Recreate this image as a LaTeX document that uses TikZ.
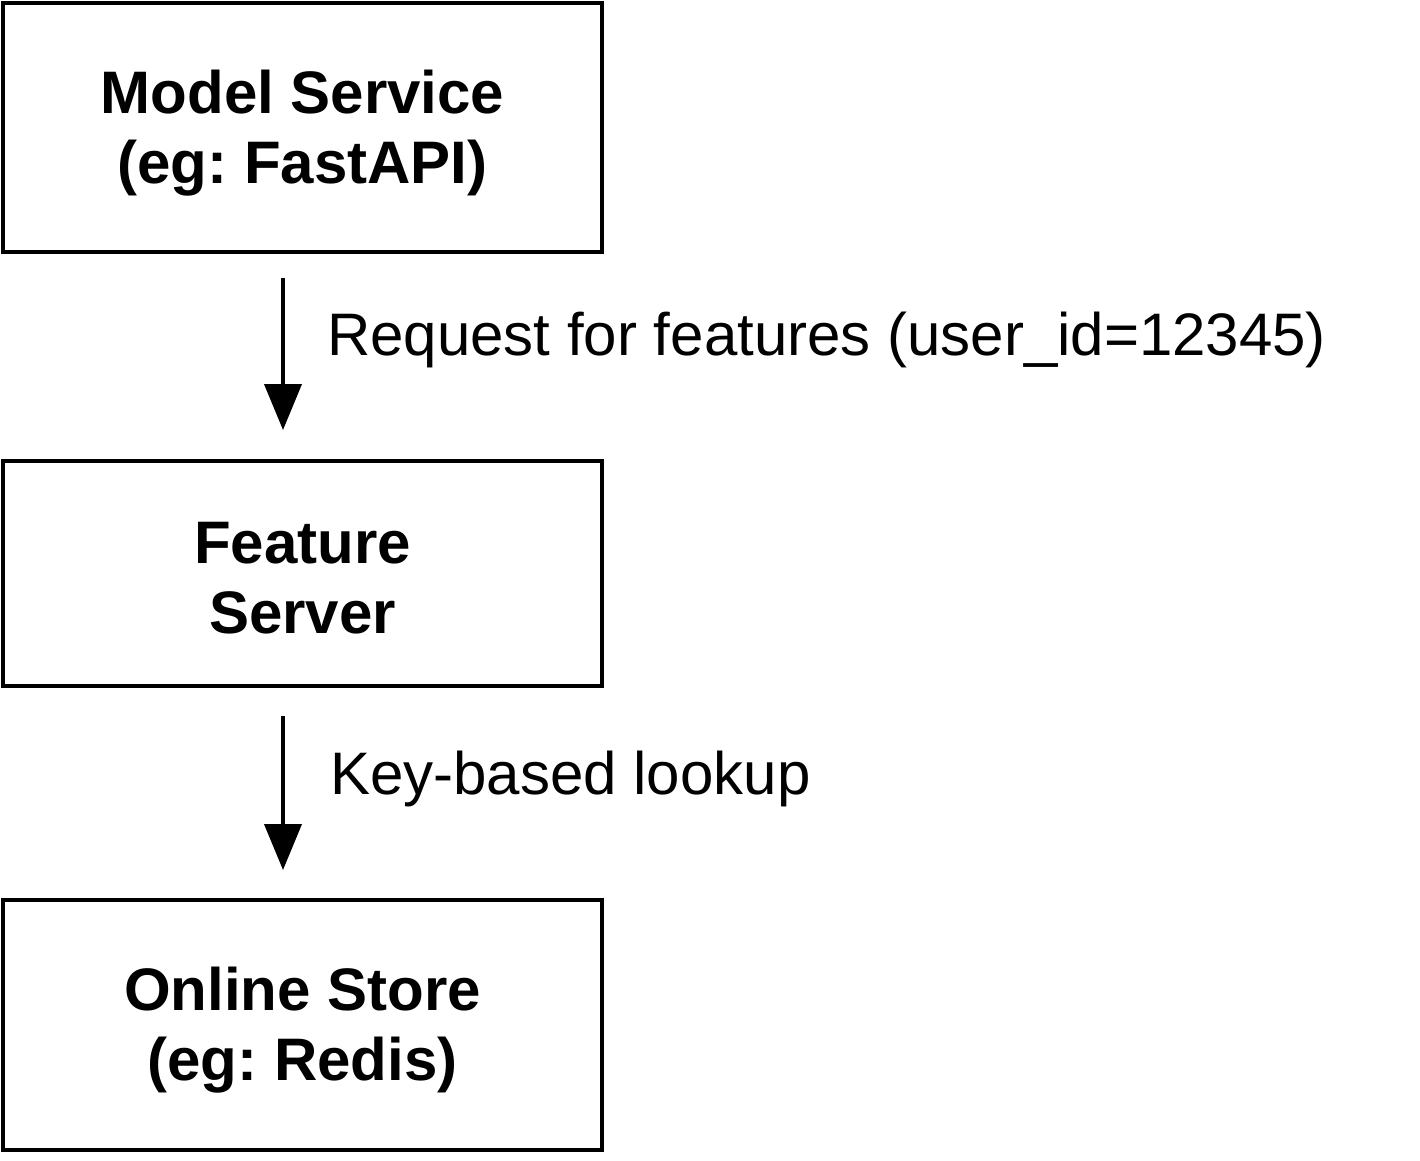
\documentclass[tikz,border=0pt]{standalone}
\usepackage{fontspec}
\setmainfont{Liberation Sans}
\usetikzlibrary{arrows.meta}
\frenchspacing
\begin{document}
\begin{tikzpicture}[x=1pt,y=-1pt,
  box/.style={draw=black,line width=4pt,minimum width=599pt,outer sep=0pt,inner sep=0pt},
  boxtext/.style={inner sep=0pt,align=center,font=\fontsize{60}{70}\selectfont\bfseries},
  lbl/.style={anchor=west,inner sep=0pt,font=\fontsize{60}{70}\selectfont},
  arr/.style={line width=4pt,-{Triangle[width=37pt,length=46pt]}}]
\useasboundingbox (0,0) rectangle (1420,1160);
\node[box,minimum height=249pt] (m) at (302.5,127.5) {};
\node[box,minimum height=225pt] (f) at (302.5,573.5) {};
\node[box,minimum height=250pt] (o) at (302.5,1025) {};
\node[boxtext] (mt) at ([yshift=-6pt]m.center) {Model Service\\(eg: FastAPI)};
\node[boxtext] (ft) at ([yshift=-5pt]f.center) {Feature\\Server};
\node[boxtext] (ot) at ([yshift=-5pt]o.center) {Online Store\\(eg: Redis)};
\draw[arr] ([xshift=-19.5pt,yshift=-26pt]m.south) -- ([xshift=-19.5pt,yshift=31pt]f.north);
\draw[arr] ([xshift=-19.5pt,yshift=-30pt]f.south) -- ([xshift=-19.5pt,yshift=30pt]o.north);
\node[lbl] (l1) at (327,340) {Request for features (user\_id=12345)};
\node[lbl] (l2) at (330,779) {Key-based lookup};
\end{tikzpicture}
\end{document}
